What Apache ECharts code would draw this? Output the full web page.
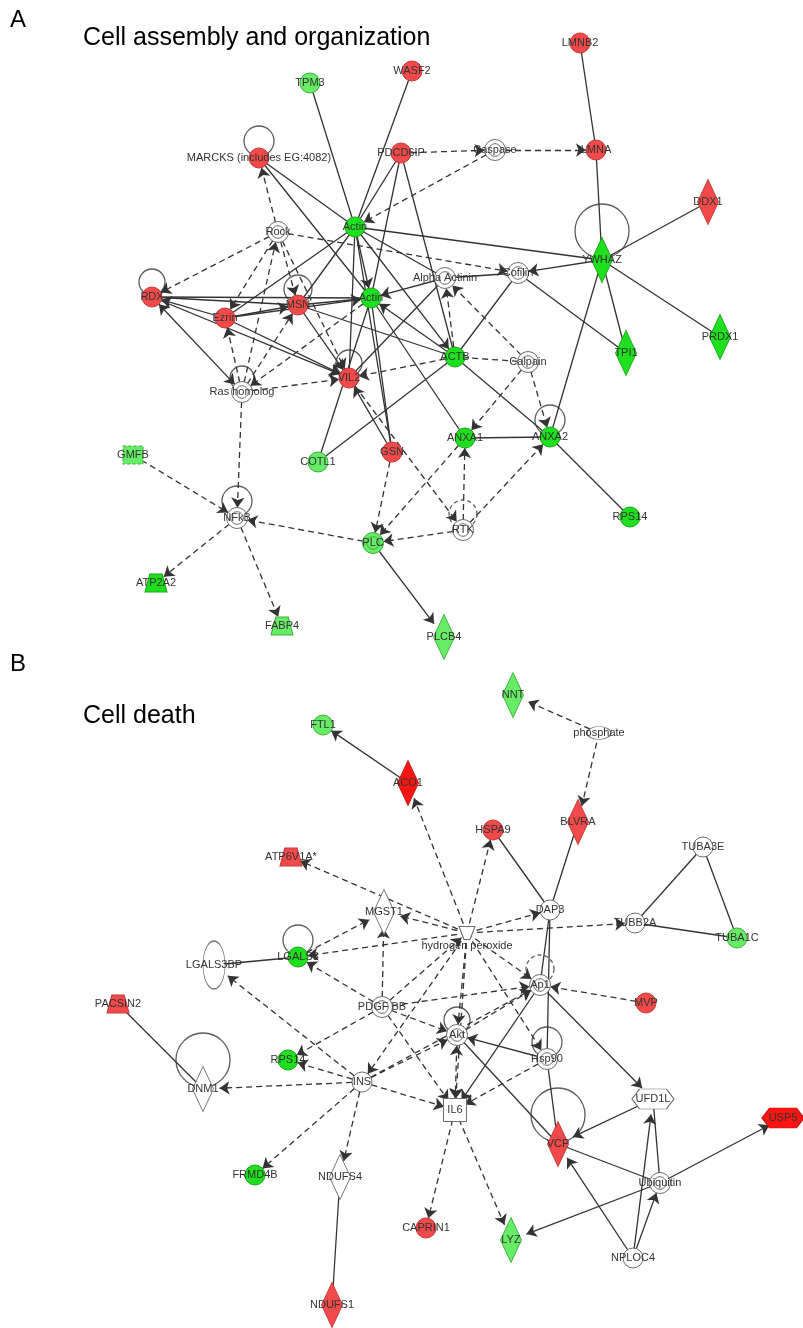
<!DOCTYPE html>
<html><head><meta charset="utf-8">
<script src="https://cdn.jsdelivr.net/npm/echarts@6/dist/echarts.min.js"></script>
<style>html,body{margin:0;padding:0;background:#fff}#c{width:803px;height:1328px}</style>
</head><body><div id="c"></div>
<script>
// ---------- DATA ----------
// node: [id, label, x, y, kind, regulation]
const nodesA = [
 ['TPM3','TPM3',310,83,'circle','dn'],
 ['WASF2','WASF2',412,71,'circle','up'],
 ['LMNB2','LMNB2',580,43,'circle','up'],
 ['MARCKS','MARCKS (includes EG:4082)',259,158,'circle','up'],
 ['PDCD6IP','PDCD6IP',401,153,'circle','up'],
 ['Caspase','Caspase',495,150,'group','none'],
 ['LMNA','LMNA',596,150,'circle','up'],
 ['DDX1','DDX1',708,202,'diamond','up'],
 ['Actin_a','Actin',355,227,'circle','dn2'],
 ['Rock','Rock',278,232,'group','none'],
 ['YWHAZ','YWHAZ',602,260,'diamond','dn2'],
 ['AlphaActinin','Alpha Actinin',445,278,'group','none'],
 ['Cofilin','Cofilin',518,273,'group','none'],
 ['RDX','RDX',152,297,'circle','up'],
 ['MSN','MSN',298,305,'circle','up'],
 ['Ezrin','Ezrin',225,318,'circle','up'],
 ['Actin_b','Actin',371,298,'circle','dn2'],
 ['TPI1','TPI1',626,353,'diamond','dn2'],
 ['PRDX1','PRDX1',720,337,'diamond','dn2'],
 ['ACTB','ACTB',455,357,'circle','dn2'],
 ['Calpain','Calpain',528,362,'group','none'],
 ['RasHomolog','Ras homolog',242,392,'group','none'],
 ['VIL2','VIL2',349,378,'circle','up'],
 ['ANXA1','ANXA1',465,438,'circle','dn2'],
 ['ANXA2','ANXA2',550,437,'circle','dn2'],
 ['GMFB','GMFB',133,455,'square','dn'],
 ['COTL1','COTL1',318,462,'circle','dn'],
 ['GSN','GSN',392,452,'circle','up'],
 ['RPS14_a','RPS14',630,517,'circle','dn2'],
 ['NFKB','NFkB',237,518,'group','none'],
 ['RTK','RTK',463,530,'group','none'],
 ['PLC','PLC',373,543,'group','dn'],
 ['ATP2A2','ATP2A2',156,583,'trap','dn2'],
 ['FABP4','FABP4',282,626,'trap','dn'],
 ['PLCB4','PLCB4',444,637,'diamond','dn']
];
const nodesB = [
 ['NNT','NNT',513,695,'diamond','dn'],
 ['phosphate','phosphate',599,733,'chem','none'],
 ['FTL1','FTL1',323,725,'circle','dn'],
 ['ACO1','ACO1',408,783,'diamond','up2'],
 ['BLVRA','BLVRA',578,822,'diamond','up'],
 ['HSPA9','HSPA9',493,830,'circle','up'],
 ['ATP6V1A','ATP6V1A*',291,857,'trap','up'],
 ['TUBA3E','TUBA3E',703,847,'circle','none'],
 ['MGST1','MGST1',384,912,'diamond','none'],
 ['DAP3','DAP3',550,910,'circle','none'],
 ['TUBB2A','TUBB2A',635,923,'circle','none'],
 ['TUBA1C','TUBA1C',737,938,'circle','dn'],
 ['H2O2','hydrogen peroxide',467,933,'chem2','none'],
 ['LGALS3BP','LGALS3BP',214,965,'ellipse','none'],
 ['LGALS3','LGALS3',298,957,'circle','dn2'],
 ['PACSIN2','PACSIN2',118,1004,'trap','up'],
 ['PDGFBB','PDGF BB',382,1007,'group','none'],
 ['Ap1','Ap1',540,985,'group','none'],
 ['MVP','MVP',646,1003,'circle','up'],
 ['Akt','Akt',457,1035,'group','none'],
 ['RPS14_b','RPS14',288,1060,'circle','dn2'],
 ['Hsp90','Hsp90',547,1059,'group','none'],
 ['INS','INS',362,1082,'circle','none'],
 ['DNM1','DNM1',203,1089,'diamond','none'],
 ['IL6','IL6',455,1110,'box','none'],
 ['UFD1L','UFD1L',653,1099,'hex','none'],
 ['VCP','VCP',558,1144,'diamond','up'],
 ['USP5','USP5',783,1118,'hex','up2'],
 ['FRMD4B','FRMD4B',255,1175,'circle','dn2'],
 ['NDUFS4','NDUFS4',340,1177,'diamond','none'],
 ['Ubiquitin','Ubiquitin',660,1183,'group','none'],
 ['CAPRIN1','CAPRIN1',426,1228,'circle','up'],
 ['LYZ','LYZ',511,1240,'diamond','dn'],
 ['NPLOC4','NPLOC4',633,1258,'circle','none'],
 ['NDUFS1','NDUFS1',332,1305,'diamond','up']
];
// edge: [source, target, dashed, arrow (0 none, 1 to target, 2 both)]
const edgesA = [
 ['TPM3','Actin_a',0,0],['WASF2','Actin_a',0,0],['PDCD6IP','Actin_a',0,0],['PDCD6IP','Actin_b',0,0],
 ['PDCD6IP','ACTB',0,0],['PDCD6IP','Caspase',1,1],['Caspase','LMNA',1,1],['Caspase','Actin_a',1,1],
 ['LMNB2','LMNA',0,0],['LMNA','YWHAZ',0,0],['DDX1','YWHAZ',0,0],['YWHAZ','PRDX1',0,0],
 ['YWHAZ','TPI1',0,0],['YWHAZ','ANXA2',0,0],['YWHAZ','Cofilin',0,1],['Actin_a','YWHAZ',0,0],
 ['Cofilin','TPI1',0,0],['Cofilin','ACTB',0,0],['Rock','Cofilin',1,1],['AlphaActinin','Cofilin',0,0],
 ['Actin_a','Actin_b',0,1],['Actin_a','AlphaActinin',0,0],['Actin_a','ACTB',0,1],['Actin_a','MSN',0,0],
 ['Actin_a','Ezrin',0,0],['Actin_a','VIL2',0,0],['MARCKS','Actin_a',0,0],['MARCKS','Actin_b',0,0],
 ['Rock','MARCKS',1,1],['Rock','RDX',1,1],['Rock','Ezrin',1,1],['Rock','MSN',1,1],['Rock','VIL2',1,1],
 ['RasHomolog','Rock',1,1],['RasHomolog','Ezrin',1,1],['RasHomolog','MSN',1,1],['RasHomolog','VIL2',1,1],
 ['RasHomolog','NFKB',1,1],['Actin_b','RasHomolog',1,1],['RDX','Actin_b',0,0],['RDX','MSN',0,0],
 ['Ezrin','RDX',0,1],['RasHomolog','RDX',0,2],['RDX','VIL2',0,1],['Ezrin','MSN',0,1],['Ezrin','Actin_b',0,1],
 ['Ezrin','VIL2',0,1],['MSN','Actin_b',0,0],['MSN','VIL2',0,1],['MSN','ACTB',0,0],
 ['AlphaActinin','Actin_b',0,1],['AlphaActinin','VIL2',0,0],['ACTB','Actin_b',0,1],['ACTB','VIL2',1,1],
 ['ACTB','AlphaActinin',1,1],['ACTB','COTL1',0,0],['ACTB','ANXA2',0,0],['Calpain','ACTB',1,0],
 ['Calpain','AlphaActinin',1,1],['Calpain','ANXA1',1,1],['Calpain','ANXA2',1,1],['ANXA2','ANXA1',0,0],
 ['ANXA2','RPS14_a',0,0],['RTK','ANXA1',1,1],['RTK','ANXA2',1,1],['RTK','PLC',1,1],['GSN','PLC',1,1],
 ['GSN','VIL2',0,1],['GSN','Actin_b',0,0],['GSN','Actin_a',0,0],['VIL2','RTK',1,1],['ANXA1','PLC',1,1],
 ['ANXA1','Actin_b',0,0],['COTL1','Actin_b',0,0],['PLC','NFKB',1,1],['PLC','PLCB4',0,1],
 ['GMFB','NFKB',1,1],['NFKB','ATP2A2',1,1],['NFKB','FABP4',1,1]
];
const edgesB = [
 ['phosphate','NNT',1,1],['phosphate','BLVRA',1,1],['ACO1','FTL1',0,1],['H2O2','ACO1',1,1],
 ['H2O2','HSPA9',1,1],['HSPA9','DAP3',0,0],['BLVRA','DAP3',0,0],['DAP3','Ap1',0,0],['DAP3','Hsp90',0,0],
 ['TUBA3E','TUBB2A',0,0],['TUBA3E','TUBA1C',0,0],['TUBB2A','TUBA1C',0,0],['H2O2','TUBB2A',1,1],
 ['H2O2','ATP6V1A',1,1],['H2O2','MGST1',1,1],['LGALS3','MGST1',1,1],['PDGFBB','MGST1',1,1],
 ['LGALS3','LGALS3BP',0,0],['PDGFBB','LGALS3',1,1],['H2O2','LGALS3',1,1],['INS','LGALS3BP',1,1],
 ['INS','RPS14_b',1,1],['PDGFBB','RPS14_b',1,1],['INS','DNM1',1,1],['PACSIN2','DNM1',0,0],
 ['INS','FRMD4B',1,1],['INS','NDUFS4',1,1],['NDUFS4','NDUFS1',0,0],['INS','Akt',1,1],['INS','Ap1',1,1],
 ['INS','IL6',1,1],['H2O2','INS',1,1],['PDGFBB','Akt',1,1],['PDGFBB','Ap1',1,1],['PDGFBB','IL6',1,1],
 ['PDGFBB','H2O2',1,1],['H2O2','Akt',1,1],['H2O2','Ap1',1,1],['H2O2','Hsp90',1,1],['H2O2','IL6',1,1],
 ['H2O2','DAP3',1,1],['Akt','IL6',1,2],['Akt','Ap1',1,1],['Hsp90','Akt',0,1],['Hsp90','IL6',1,1],
 ['Hsp90','VCP',0,0],['Ap1','IL6',0,1],['Ap1','UFD1L',0,1],['MVP','Ap1',1,1],['Akt','VCP',0,0],
 ['IL6','CAPRIN1',1,1],['IL6','LYZ',1,1],['UFD1L','VCP',0,1],['Ubiquitin','VCP',0,0],
 ['Ubiquitin','USP5',0,1],['Ubiquitin','LYZ',0,1],['NPLOC4','VCP',0,1],['NPLOC4','UFD1L',0,1],
 ['NPLOC4','Ubiquitin',0,1],['Ubiquitin','UFD1L',0,0]
];
// self loops: [node, radius, dashed]
const loops = [
 ['MARCKS',15,0],['YWHAZ',27,0],['RDX',13,0],['MSN',14,0],['RasHomolog',12,0],['VIL2',13,0],
 ['ANXA2',15,0],['NFKB',15,0],['RTK',14,1],['LGALS3',15,0],['DNM1',27,0],['Akt',13,0],
 ['Ap1',14,1],['Hsp90',15,0],['VCP',27,0]
];
const titles = [['A','Cell assembly and organization'],['B','Cell death']];

// ---------- STYLE ----------
const DOUBLE = 'path://M0,10 A10,10 0 1,1 20,10 A10,10 0 1,1 0,10 Z M4,10 A6,6 0 1,1 16,10 A6,6 0 1,1 4,10 Z';
const TRAP = 'path://M4,0 L14,0 L18,16 L0,16 Z';
const FUNNEL = 'path://M0,0 L16,0 L11,13 L5,13 Z';
const HEX = 'path://M0,10 L8,0 L36,0 L44,10 L36,20 L8,20 Z';
const KIND = {
 circle:{symbol:'circle',size:20}, group:{symbol:DOUBLE,size:21}, diamond:{symbol:'diamond',size:[21,45]},
 trap:{symbol:TRAP,size:[22,18]}, square:{symbol:'rect',size:[20,18],dash:true},
 chem:{symbol:'circle',size:[24,13]}, chem2:{symbol:FUNNEL,size:[16,13],below:true},
 ellipse:{symbol:'circle',size:[22,48]}, box:{symbol:'rect',size:23}, hex:{symbol:HEX,size:[42,20]}
};
const COLOR = {up:['#f24a4a','#c43a3a'], up2:['#ff1414','#c01010'], dn:['#66ec66','#3fae3f'],
 dn2:['#1fe01f','#16a816'], none:['#ffffff','#6e6e6e']};

const allNodes = nodesA.concat(nodesB);
const pos = {}; allNodes.forEach(n => pos[n[0]] = [n[2], n[3]]);
const graphData = allNodes.map(n => {
  const k = KIND[n[4]], c = COLOR[n[5]];
  const it = {name:n[0], value:[n[2], n[3]], symbol:k.symbol, symbolSize:k.size,
    itemStyle:{color:c[0], borderColor:c[1], borderWidth:1, borderType:k.dash ? [3,2] : 'solid'},
    label:{formatter:n[1]}};
  if (k.below) { it.label.position = 'bottom'; it.label.distance = 1; }
  return it;
});
const links = edgesA.concat(edgesB).map(e => ({
  source:e[0], target:e[1],
  symbol: e[3] === 2 ? ['arrow','arrow'] : (e[3] === 1 ? ['none','arrow'] : ['none','none']),
  lineStyle:{type: e[2] ? [6,4] : 'solid'}
}));
const loopData = loops.map(l => ({
  value:[pos[l[0]][0], pos[l[0]][1] - l[1] - 2], symbolSize: 2 * l[1],
  itemStyle:{borderType: l[2] ? [4,3] : 'solid'}
}));

const FONT = 'Liberation Sans, Arial, sans-serif';
const chart = echarts.init(document.getElementById('c'), null, {renderer:'canvas'});
chart.setOption({
  animation:false,
  backgroundColor:'#ffffff',
  grid:{left:0, right:0, top:0, bottom:0},
  xAxis:{type:'value', min:0, max:803, show:false},
  yAxis:{type:'value', min:0, max:1328, inverse:true, show:false},
  graphic:[
    {type:'text', left:10, top:8, style:{text:titles[0][0], fontSize:24, fontFamily:FONT, fill:'#000'}},
    {type:'text', left:83, top:26, style:{text:titles[0][1], fontSize:25, fontFamily:FONT, fill:'#000'}},
    {type:'text', left:10, top:652, style:{text:titles[1][0], fontSize:24, fontFamily:FONT, fill:'#000'}},
    {type:'text', left:83, top:704, style:{text:titles[1][1], fontSize:25, fontFamily:FONT, fill:'#000'}}
  ],
  series:[
    {type:'scatter', z:2, silent:true, symbol:'circle', data:loopData,
     itemStyle:{color:'rgba(0,0,0,0)', borderColor:'#333', borderWidth:1.3}},
    {type:'graph', coordinateSystem:'cartesian2d', z:3, silent:true,
     data:graphData, links:links, edgeSymbolSize:[10,10],
     lineStyle:{color:'#333', width:1.3, opacity:1, curveness:0},
     label:{show:true, position:'inside', fontSize:11, color:'#333', fontFamily:FONT},
     emphasis:{disabled:true}}
  ]
});
</script></body></html>
